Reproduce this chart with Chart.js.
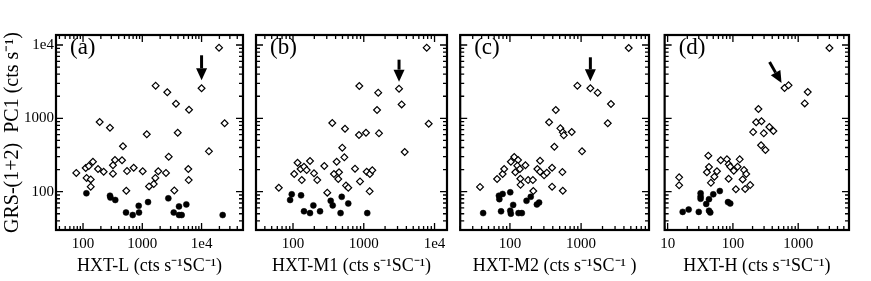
<!DOCTYPE html>
<html>
<head>
<meta charset="utf-8">
<script src="https://cdn.jsdelivr.net/npm/chart.js@4.4.0/dist/chart.umd.min.js"></script>
<style>
  body { margin: 0; background: #fff; }
  #wrap { position: relative; width: 871px; height: 281px; background: #fff; }
  canvas { position: absolute; top: 0; }
</style>
</head>
<body>
<div id="wrap">
  <canvas id="pa" width="250" height="281" style="left:0px"></canvas>
  <canvas id="pb" width="205" height="281" style="left:250px"></canvas>
  <canvas id="pc" width="200" height="281" style="left:455px"></canvas>
  <canvas id="pd" width="216" height="281" style="left:655px"></canvas>
</div>
<script>
// y axis: GRS-(1+2) PC1 count rate, shared by all panels
const yRange = [30, 13700];

// panel (a) HXT-L : [x, y]
const openL = [[19700, 9200], [10000, 2570], [1680, 2790], [2640, 2270], [3700, 1580], [6140, 1310],
  [191, 892], [285, 745], [24500, 857], [1190, 606], [3960, 637], [472, 416], [13300, 355], [2790, 300],
  [77, 180], [111, 210], [125, 224], [147, 256], [179, 204], [223, 187], [115, 154], [135, 147], [135, 117],
  [320, 176], [320, 229], [346, 270], [455, 268], [552, 191], [716, 212], [1016, 190], [537, 103],
  [1860, 190], [1660, 154], [1560, 127], [1300, 118], [2510, 180], [3470, 104], [6060, 144], [5970, 204]];
const fillL = [[114, 95], [285, 88], [290, 83], [350, 77], [531, 52], [689, 48], [880, 52], [870, 64],
  [1250, 72], [2750, 81], [3390, 52], [4160, 63], [4160, 48], [4620, 48], [5530, 67], [22700, 48]];

// panel (b) HXT-M1
const openM1 = [[7750, 9200], [3150, 2540], [865, 2760], [1600, 2240], [3430, 1550], [1540, 1300],
  [359, 865], [8270, 845], [543, 722], [856, 592], [1075, 637], [1640, 625], [497, 398], [3790, 348],
  [531, 294], [63, 113], [116, 248], [104, 174], [128, 204], [143, 219], [156, 197], [174, 262], [133, 144],
  [198, 178], [220, 144], [277, 224], [305, 97], [379, 174], [414, 256], [436, 149], [447, 184], [561, 121],
  [604, 113], [752, 206], [885, 138], [1100, 187], [1220, 174], [1210, 101], [1320, 196]];
const fillM1 = [[91, 77], [96, 92], [130, 89], [143, 54], [174, 51], [194, 65], [241, 54], [341, 75],
  [364, 65], [488, 85], [470, 51], [604, 69], [1120, 51]];

// panel (c) HXT-M2
const openM2 = [[4670, 9120], [1350, 2570], [887, 2790], [1710, 2240], [2630, 1570], [441, 1300],
  [355, 884], [2370, 857], [511, 731], [553, 645], [571, 587], [739, 651], [421, 410], [1030, 355],
  [38, 116], [66, 149], [79, 174], [83, 204], [103, 256], [115, 297], [130, 270], [127, 226], [138, 204],
  [119, 184], [140, 150], [141, 124], [165, 229], [180, 144], [210, 144], [213, 102], [243, 204], [265, 264],
  [265, 187], [302, 167], [330, 181], [391, 212], [391, 117], [546, 185], [553, 103]];
const fillM2 = [[42, 51], [70, 88], [71, 79], [79, 93], [75, 54], [101, 98], [111, 66], [101, 55],
  [103, 50], [132, 51], [147, 51], [171, 75], [196, 85], [239, 67], [257, 71]];

// panel (d) HXT-H
const openH = [[3010, 9120], [618, 2590], [711, 2820], [1400, 2290], [1260, 1600], [246, 1340],
  [227, 884], [274, 912], [362, 762], [417, 672], [204, 650], [297, 625], [270, 429], [315, 370],
  [15, 157], [15, 122], [42, 310], [43, 217], [40, 184], [46, 132], [52, 160], [57, 190], [65, 268],
  [86, 150], [81, 276], [86, 236], [91, 219], [103, 193], [118, 219], [127, 276], [141, 147], [148, 197],
  [160, 174], [154, 109], [184, 123], [111, 108]];
const fillH = [[17, 53], [21, 57], [30, 53], [32, 95], [32, 86], [32, 80], [39, 68], [43, 79], [43, 55],
  [45, 52], [50, 92], [63, 102], [84, 72], [91, 69]];

const serif = '"Liberation Serif", "Times New Roman", serif';

function toXY(arr) {
  return arr.map(p => ({ x: p[0], y: p[1] }));
}

function decades(min, max) {
  const out = [];
  for (let e = Math.floor(Math.log10(min)); e <= Math.ceil(Math.log10(max)); e++) {
    const v = Math.pow(10, e);
    if (v >= min && v <= max) out.push(v);
  }
  return out;
}

function logTicks(min, max) {
  const out = [];
  for (let e = Math.floor(Math.log10(min)); e <= Math.ceil(Math.log10(max)); e++) {
    for (let m = 1; m <= 9; m++) {
      const v = m * Math.pow(10, e);
      if (v >= min && v <= max) out.push({ v: v, major: m === 1 });
    }
  }
  return out;
}

function fmt(v) {
  return v >= 10000 ? '1e4' : String(v);
}

// frame, inward ticks on four sides, panel letter and arrow
const framePlugin = {
  id: 'frame',
  afterDatasetsDraw(chart, args, opts) {
    const ctx = chart.ctx;
    const a = chart.chartArea;
    const x = chart.scales.x, y = chart.scales.y;
    ctx.save();
    ctx.strokeStyle = '#000';
    ctx.fillStyle = '#000';
    ctx.lineWidth = 1.3;
    ctx.beginPath();
    logTicks(x.min, x.max).forEach(t => {
      const px = x.getPixelForValue(t.v);
      const len = t.major ? 7 : 4;
      ctx.moveTo(px, a.bottom); ctx.lineTo(px, a.bottom - len);
      ctx.moveTo(px, a.top); ctx.lineTo(px, a.top + len);
    });
    logTicks(y.min, y.max).forEach(t => {
      const py = y.getPixelForValue(t.v);
      const len = t.major ? 7 : 4;
      ctx.moveTo(a.left, py); ctx.lineTo(a.left + len, py);
      ctx.moveTo(a.right, py); ctx.lineTo(a.right - len, py);
    });
    ctx.stroke();
    ctx.lineWidth = 2.2;
    ctx.strokeRect(a.left, a.top, a.right - a.left, a.bottom - a.top);

    ctx.font = '23px ' + serif;
    ctx.textBaseline = 'alphabetic';
    ctx.fillText(opts.label, a.left + 14, a.top + 19);

    // arrow pointing at the marked observation
    const ar = opts.arrow;
    const px = x.getPixelForValue(ar.at[0]);
    const py = y.getPixelForValue(ar.at[1]);
    const tx = px + ar.tip[0], ty = py + ar.tip[1];
    const sx = px + ar.tail[0], sy = py + ar.tail[1];
    const ang = Math.atan2(ty - sy, tx - sx);
    const hl = 12, hw = 5.5;
    const bx = tx - hl * Math.cos(ang), by = ty - hl * Math.sin(ang);
    ctx.lineWidth = 3;
    ctx.beginPath();
    ctx.moveTo(sx, sy);
    ctx.lineTo(bx, by);
    ctx.stroke();
    ctx.beginPath();
    ctx.moveTo(tx, ty);
    ctx.lineTo(bx + hw * Math.sin(ang), by - hw * Math.cos(ang));
    ctx.lineTo(bx - hw * Math.sin(ang), by + hw * Math.cos(ang));
    ctx.closePath();
    ctx.fill();
    ctx.restore();
  }
};

function makePanel(id, p) {
  const first = p.yWidth > 20;
  new Chart(document.getElementById(id), {
    type: 'scatter',
    data: {
      datasets: [{
        data: toXY(p.open),
        pointStyle: 'rectRot',
        pointRadius: 3.4,
        borderWidth: 1.2,
        borderColor: '#000',
        backgroundColor: '#fff'
      }, {
        data: toXY(p.fill),
        pointStyle: 'circle',
        pointRadius: 3,
        borderWidth: 0.5,
        borderColor: '#000',
        backgroundColor: '#000'
      }]
    },
    options: {
      responsive: false,
      animation: false,
      devicePixelRatio: 1,
      layout: { padding: { left: 0, right: p.right, top: 35, bottom: 0 } },
      plugins: {
        legend: { display: false },
        tooltip: { enabled: false },
        frame: { label: p.label, arrow: p.arrow }
      },
      scales: {
        x: {
          type: 'logarithmic',
          min: p.xRange[0],
          max: p.xRange[1],
          grid: { display: false, drawTicks: false },
          border: { display: false },
          afterBuildTicks: s => { s.ticks = decades(s.min, s.max).map(v => ({ value: v })); },
          afterFit: s => { s.height = 51; },
          ticks: {
            color: '#000', padding: 5, maxRotation: 0, autoSkip: false,
            font: { family: serif, size: 15 },
            callback: v => fmt(v)
          },
          title: {
            display: true, text: p.xTitle, color: '#000',
            font: { family: serif, size: 18 },
            padding: { top: 0, bottom: 4 }
          }
        },
        y: {
          type: 'logarithmic',
          min: yRange[0],
          max: yRange[1],
          grid: { display: false, drawTicks: false },
          border: { display: false },
          afterBuildTicks: s => { s.ticks = decades(s.min, s.max).map(v => ({ value: v })); },
          afterFit: s => { s.width = p.yWidth; },
          ticks: {
            display: first,
            color: '#000', padding: 2, autoSkip: false,
            font: { family: serif, size: 15 },
            callback: v => fmt(v)
          },
          title: {
            display: first, text: 'GRS-(1+2)  PC1 (cts s\u207B\u00B9)', color: '#000',
            font: { family: serif, size: 20 },
            padding: { top: 1, bottom: 0 }
          }
        }
      }
    },
    plugins: [framePlugin]
  });
}

makePanel('pa', {
  open: openL, fill: fillL, xRange: [35, 50000], yWidth: 56, right: 7, label: '(a)',
  xTitle: 'HXT-L (cts s\u207B\u00B9SC\u207B\u00B9)',
  arrow: { at: [10000, 2570], tip: [0, -8], tail: [0, -33] }
});
makePanel('pb', {
  open: openM1, fill: fillM1, xRange: [30, 15000], yWidth: 6, right: 8, label: '(b)',
  xTitle: 'HXT-M1 (cts s\u207B\u00B9SC\u207B\u00B9)',
  arrow: { at: [3150, 2540], tip: [0, -7], tail: [0, -29] }
});
makePanel('pc', {
  open: openM2, fill: fillM2, xRange: [20, 9000], yWidth: 5, right: 6, label: '(c)',
  xTitle: 'HXT-M2 (cts s\u207B\u00B9SC\u207B\u00B9 )',
  arrow: { at: [1350, 2570], tip: [0, -7], tail: [0, -31] }
});
makePanel('pd', {
  open: openH, fill: fillH, xRange: [9, 6000], yWidth: 8, right: 22, label: '(d)',
  xTitle: 'HXT-H (cts s\u207B\u00B9SC\u207B\u00B9)',
  arrow: { at: [618, 2590], tip: [-3, -5], tail: [-15, -26] }
});
</script>
</body>
</html>
